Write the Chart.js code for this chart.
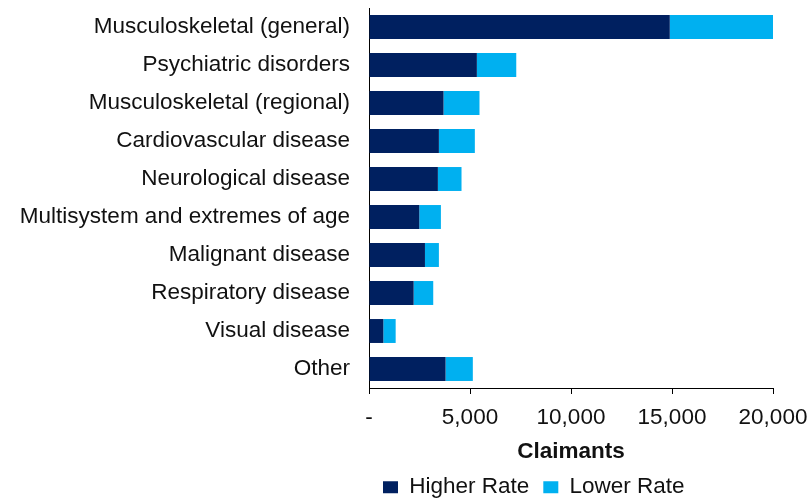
<!DOCTYPE html>
<html>
<head>
<meta charset="utf-8">
<script src="https://cdn.jsdelivr.net/npm/chart.js@4/dist/chart.umd.min.js"></script>
<style>
  html,body{margin:0;padding:0;background:#fff}
  #wrap{width:809px;height:500px;position:relative}
</style>
</head>
<body>
<div id="wrap"><canvas id="c"></canvas></div>
<script>
// Claimants by condition group, stacked higher/lower rate
const categories = ['Musculoskeletal (general)','Psychiatric disorders','Musculoskeletal (regional)','Cardiovascular disease','Neurological disease','Multisystem and extremes of age','Malignant disease','Respiratory disease','Visual disease','Other'];
const higherRate = [14890, 5340, 3690, 3460, 3410, 2490, 2770, 2210, 710, 3790];
const lowerRate  = [5170, 1950, 1780, 1780, 1170, 1070, 690, 970, 610, 1350];
const xTicks = [0, 5000, 10000, 15000, 20000];

const FONT = "'Liberation Sans', Arial, sans-serif";
const FS = 22.5;
const TXT = '#111';

// move legend to where the original sits
const legendPos = {
  id: 'legendPos',
  afterLayout(chart) {
    const lg = chart.legend;
    const dx = 383 - lg.options.labels.padding - lg.left;
    lg.left += dx; lg.right += dx;
    const dy = 462 - lg.top;
    lg.top += dy; lg.bottom += dy;
  }
};

new Chart(document.getElementById('c'), {
  type: 'bar',
  data: {
    labels: categories,
    datasets: [
      {label: 'Higher Rate', data: higherRate, backgroundColor: '#002060', borderWidth: 0},
      {label: 'Lower Rate', data: lowerRate, backgroundColor: '#00B0F0', borderWidth: 0}
    ]
  },
  options: {
    indexAxis: 'y',
    responsive: true,
    maintainAspectRatio: false,
    animation: false,
    categoryPercentage: 1,
    barPercentage: 0.63,
    layout: {padding: {top: 8, right: 36, left: 0, bottom: 0}},
    plugins: {
      tooltip: {enabled: false},
      legend: {
        position: 'bottom',
        align: 'start',
        maxHeight: 38,
        labels: {font: {family: FONT, size: FS}, color: TXT, boxWidth: 15, boxHeight: 12, padding: 14}
      }
    },
    scales: {
      x: {
        stacked: true,
        min: 0, max: 20000,
        afterBuildTicks: s => { s.ticks = xTicks.map(v => ({value: v})); },
        afterFit: s => { s.height = 74; s.paddingLeft = 0; s.paddingRight = 0; },
        grid: {drawOnChartArea: false, drawTicks: true, tickLength: 6, color: '#000'},
        border: {display: true, color: '#000', width: 1},
        ticks: {
          font: {family: FONT, size: FS}, color: TXT, padding: 10, maxRotation: 0,
          callback: v => v === 0 ? '-' : v.toLocaleString('en-US')
        },
        title: {display: true, text: 'Claimants', font: {family: FONT, size: FS, weight: 'bold'}, color: TXT, padding: {top: 4, bottom: -3}}
      },
      y: {
        stacked: true,
        afterFit: s => { s.width = 369; s.paddingTop = 0; s.paddingBottom = 0; },
        grid: {drawOnChartArea: false, drawTicks: false},
        border: {display: true, color: '#000', width: 1},
        ticks: {font: {family: FONT, size: FS}, color: TXT, padding: 19}
      }
    }
  },
  plugins: [legendPos]
});
</script>
</body>
</html>
